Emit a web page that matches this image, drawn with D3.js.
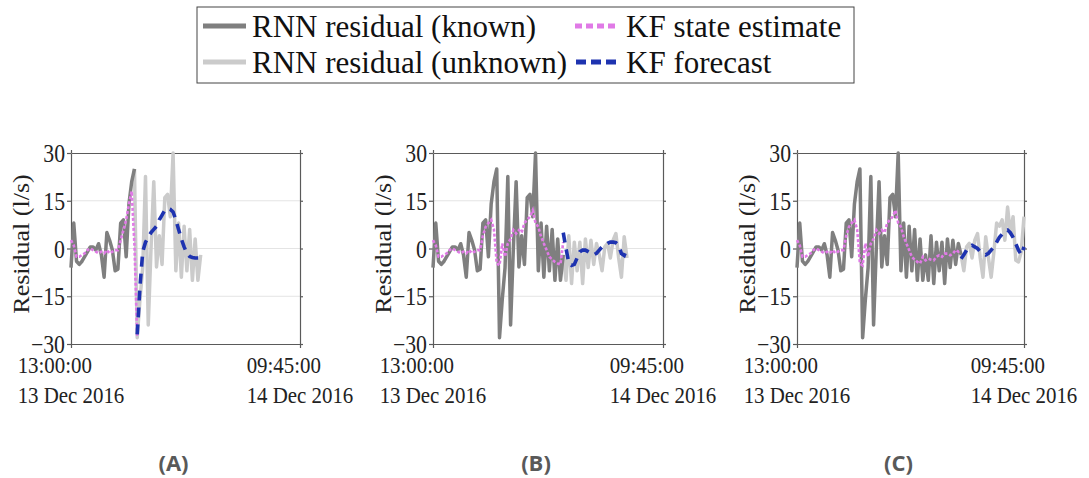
<!DOCTYPE html>
<html>
<head>
<meta charset="utf-8">
<script src="https://cdn.jsdelivr.net/npm/d3@7"></script>
<style>
  body { margin: 0; background: #fff; }
  svg { display: block; }
  .serif { font-family: "Liberation Serif", "Times New Roman", Times, "DejaVu Serif", serif; }
</style>
</head>
<body>
<script>
// residual series, one value every 15 minutes from 13:00 13 Dec 2016 to 09:45 14 Dec 2016
const residual = [-6, 8, -4, -5, -4, -2.5, -1, 0.5, 0.5, -0.5,
                  1.5, -2, -9, 5, 2.6, -0.5, -7, -6.5, 8, 9,
                  -2.6, 14, 21, 25, -28, -16, -6, 22.6, -24, 0,
                  21, -5.8, 4, -5, 16, 17, 10, 30, -7, 8,
                  -9, 7, -7, 6, -10, 3, -10, -2, -10, 4,
                  -11, 2, -7, 2, -11, 3, -6, 2.6, -5, 1.6,
                  -2, -7, 0.5, 1.6, -3, 2.6, 4.7, -3, -9, 3.7,
                  -3, -9, -1, 8, 7, 9, 2.6, 13, 4.7, 10,
                  -3.7, -4.2, -1, 10]

// KF state estimates (start at index 0)
const kfA = [2.6, 1, -2.6, -2.6, -2, -1.5, -0.5, 0, -0.5, -1,
             -1.5, -1, -1.5, -0.5, -1.5, -1, -0.5, -0.5, 2.6, 5.8,
             9, 14, 18, 1, -28]
const kfB = [2.6, 1, -2.6, -2.6, -2, -1.5, -0.5, 0, -0.5, -1,
             -1.5, -1, -1.5, -0.5, -1.5, -1, -0.5, -0.5, 4, 6.8,
             8, 9, 6, -4.7, -5.3, 1.6, -2.6, 1.6, 3, 5.8,
             4.7, 5.8, 5, 8, 9, 10, 12, 8, 6.8, 3.7,
             1.6, -0.5, -2.6, -3.5, -4.2, -4.7, -5, 2]
const kfC = [2.6, 1, -2.6, -2.6, -2, -1.5, -0.5, 0, -0.5, -1,
             -1.5, -1, -1.5, -0.5, -1.5, -1, -0.5, -0.5, 4, 6.8,
             8, 9, 6, -4.7, -5.3, 1.6, -2.6, 1.6, 3, 5.8,
             4.7, 5.8, 5, 8, 9, 10, 12, 8, 6.8, 3.7,
             1.6, -0.5, -2.6, -3.5, -4.2, -4.7, -2.6, -3.7, -3.2, -3.5,
             -3.7, -2.6, -2.1, -2.6, -1.6, -1.6, -2.1, -1.6, -0.5, -1,
             -0.5]

// KF forecasts (start at fcStart)
const fcA = [-27, -12, -1, 2, 3.5, 5, 6, 7, 9, 10.5,
             12, 12.6, 12.3, 11.5, 9, 6, 3, 0.5, -1.5, -2.5,
             -2.8, -3, -3, -3]
const fcB = [5, 0, -4.5, -5.3, -5, -3, -1, -0.5, -0.5, -1,
             -1.5, -2, -1.5, -0.5, 0.5, 1, 1.6, 2, 2, 1.8,
             1, -1.6, -2.2, 0]
const fcC = [-3.2, -2, -0.5, 0.5, 1, 0.5, 0, -1, -1.6, -2,
             -1.5, -0.5, 0.5, 2, 3.5, 4.5, 5.5, 5.8, 5, 3.5,
             1.5, -0.5, -2, 0.5]

const panelNames = ["(A)", "(B)", "(C)"]
const knownEnd = [23, 47, 60]
const unknownEnd = [47, 70, 83]
const kfSeries = [kfA, kfB, kfC]
const fcStart = [24, 47, 60]
const fcSeries = [fcA, fcB, fcC]

const yTicks = [-30, -15, 0, 15, 30]
const gridValues = [-15, 0, 15]
const tickTimes = ["13:00:00", "09:45:00"]
const tickDates = ["13 Dec 2016", "14 Dec 2016"]
const yLabel = "Residual (l/s)"
const legendLabels = ["RNN residual (known)", "RNN residual (unknown)", "KF state estimate", "KF forecast"]

const w = 1089
const h = 478
const sx = 0.87
const cKnown = "#7f7f7f", cUnknown = "#cbcbcb", cKf = "#e07ae6", cFc = "#1e33b0"

const svg = d3.select("body").append("svg")
              .attr("width", w)
              .attr("height", h)

const t0 = new Date(2016, 11, 13, 13, 0, 0)
const timeAt = (i) => d3.timeMinute.offset(t0, 15 * i)
const tEnd = timeAt(residual.length - 1)

const plotTop = 153, plotBottom = 344
const yScale = d3.scaleLinear().domain([-30, 30]).range([plotBottom, plotTop])
const layout = [{left: 71, width: 229}, {left: 433, width: 230}, {left: 797, width: 227}]

layout.forEach((p, k) => {
    const g = svg.append("g")
    const xScale = d3.scaleTime().domain([t0, tEnd]).range([p.left, p.left + p.width])
    const right = p.left + p.width

    g.selectAll(".grid")
     .data(gridValues)
     .enter()
     .append("line")
     .attr("x1", p.left).attr("x2", right)
     .attr("y1", (d) => yScale(d)).attr("y2", (d) => yScale(d))
     .attr("stroke", "#e4e4e4")
     .attr("stroke-width", 1)

    const yAxis = g.append("g")
                   .attr("transform", "translate(" + p.left + ",0)")
                   .call(d3.axisLeft(yScale).tickValues(yTicks).tickSize(4).tickSizeOuter(0))
    yAxis.attr("font-family", null)
    yAxis.selectAll("text")
         .attr("class", "serif")
         .attr("x", null).attr("dy", "0.34em")
         .attr("transform", "translate(-6,0) scale(" + sx + ",1)")
         .attr("font-size", 25)
         .attr("fill", "#222")
    g.append("g")
     .attr("transform", "translate(" + right + ",0)")
     .call(d3.axisRight(yScale).tickValues(yTicks).tickSize(3).tickSizeOuter(0).tickFormat(""))
    g.append("g")
     .attr("transform", "translate(0," + plotTop + ")")
     .call(d3.axisTop(xScale).tickValues([t0, tEnd]).tickSize(3).tickSizeOuter(0).tickFormat(""))
    g.append("g")
     .attr("transform", "translate(0," + plotBottom + ")")
     .call(d3.axisBottom(xScale).tickValues([t0, tEnd]).tickSize(4).tickSizeOuter(0).tickFormat(""))
    g.selectAll(".domain, .tick line")
     .attr("stroke", "#5a5a5a")
     .attr("stroke-width", 1.2)

    const line = d3.line()
                   .x((d) => xScale(timeAt(d.i)))
                   .y((d) => yScale(d.v))
    const pts = (arr, start) => arr.map((v, j) => ({i: start + j, v: v}))

    g.append("path")
     .attr("d", line(pts(residual.slice(knownEnd[k], unknownEnd[k] + 1), knownEnd[k])))
     .attr("fill", "none").attr("stroke", cUnknown).attr("stroke-width", 3.5)
     .attr("stroke-linejoin", "round")
    g.append("path")
     .attr("d", line(pts(residual.slice(0, knownEnd[k] + 1), 0)))
     .attr("fill", "none").attr("stroke", cKnown).attr("stroke-width", 3.5)
     .attr("stroke-linejoin", "round")
    g.append("path")
     .attr("d", line(pts(kfSeries[k], 0)))
     .attr("fill", "none").attr("stroke", cKf).attr("stroke-width", 2.6)
     .attr("stroke-dasharray", "3,2")
    g.append("path")
     .attr("d", line(pts(fcSeries[k], fcStart[k])))
     .attr("fill", "none").attr("stroke", cFc).attr("stroke-width", 3.6)
     .attr("stroke-dasharray", "10,7")

    // two-line date labels at the ends of the time axis
    ;[t0, tEnd].forEach((t, n) => {
        const l1 = g.append("text").text(tickTimes[n])
        const l2 = g.append("text").text(tickDates[n])
        ;[l1, l2].forEach((s) => s.attr("class", "serif").attr("font-size", 24).attr("fill", "#222"))
        const bw = Math.max(l1.node().getComputedTextLength(), l2.node().getComputedTextLength()) * sx
        const x0 = xScale(t) - bw / 2
        l1.attr("transform", "translate(" + x0 + ",373) scale(" + sx + ",1)")
        l2.attr("transform", "translate(" + x0 + ",403) scale(" + sx + ",1)")
    })

    g.append("text")
     .text(yLabel)
     .attr("class", "serif")
     .attr("transform", "translate(" + (p.left - 42) + ",244) rotate(-90) scale(1," + sx + ")")
     .attr("text-anchor", "middle")
     .attr("font-size", 26)
     .attr("fill", "#222")

    g.append("text")
     .text(panelNames[k])
     .attr("x", p.left + p.width / 2 - 12)
     .attr("y", 471)
     .attr("text-anchor", "middle")
     .attr("font-family", "'Open Sans', sans-serif")
     .attr("font-weight", "bold")
     .attr("font-size", 22)
     .attr("fill", "#595959")
})

// legend
const legend = svg.append("g")
legend.append("rect")
      .attr("x", 197).attr("y", 7)
      .attr("width", 657).attr("height", 76)
      .attr("fill", "#fff")
      .attr("stroke", "#444")
      .attr("stroke-width", 1)

const legendStyle = [
    {color: cKnown, dash: null, width: 5},
    {color: cUnknown, dash: null, width: 5},
    {color: cKf, dash: "7,4", width: 5},
    {color: cFc, dash: "10,5", width: 5}
]
const legendPos = [{x: 203, y: 26}, {x: 203, y: 62}, {x: 575, y: 26}, {x: 576, y: 62}]

legendLabels.forEach((lab, n) => {
    const pos = legendPos[n]
    legend.append("line")
          .attr("x1", pos.x).attr("x2", pos.x + 43)
          .attr("y1", pos.y).attr("y2", pos.y)
          .attr("stroke", legendStyle[n].color)
          .attr("stroke-width", legendStyle[n].width)
          .attr("stroke-dasharray", legendStyle[n].dash)
    legend.append("text")
          .text(lab)
          .attr("class", "serif")
          .attr("x", n < 2 ? 252 : 626)
          .attr("y", pos.y + 11)
          .attr("font-size", 31)
          .attr("fill", "#111")
})
</script>
</body>
</html>
